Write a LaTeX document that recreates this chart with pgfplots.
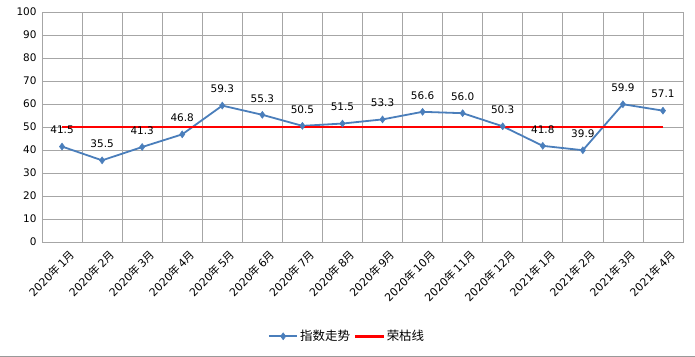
\documentclass[border=0pt]{standalone}
\usepackage{pgfplots}
\pgfplotsset{compat=1.18}
\usepackage{fontspec}
\setmainfont{DejaVu Sans}
\newfontfamily\cjk{Noto Sans CJK SC}
\definecolor{lineblue}{HTML}{4A7EBB}
\definecolor{gridgray}{HTML}{A6A6A6}
\newcommand\nian{{\cjk 年}\,}
\newcommand\yue{{\cjk 月}}
\begin{document}
\begin{tikzpicture}
\path[use as bounding box] (0,0) rectangle (695bp,357bp);
\draw[gray!80, line width=1.2bp] (0,0.6bp) -- (695bp,0.6bp);
\begin{axis}[
  at={(42bp,115bp)}, anchor=south west,
  scale only axis, width=641bp, height=230bp,
  xmin=-0.5, xmax=15.5, ymin=0, ymax=100,
  ytick={0,10,...,100},
  xtick={0,...,15},
  minor xtick={-0.5,0.5,...,15.5},
  xminorgrids, ymajorgrids,
  grid style={gridgray, line width=0.7bp},
  minor grid style={gridgray, line width=0.7bp},
  axis line style={gridgray, line width=0.8bp},
  major tick style={draw=none}, minor tick style={draw=none},
  /pgf/number format/assume math mode=true,
  tick label style={font=\fontsize{10.5}{12}\selectfont},
  yticklabel style={xshift=-2bp},
  xticklabels={2020\nian1\yue,2020\nian2\yue,2020\nian3\yue,2020\nian4\yue,2020\nian5\yue,2020\nian6\yue,2020\nian7\yue,2020\nian8\yue,2020\nian9\yue,2020\nian10\yue,2020\nian11\yue,2020\nian12\yue,2021\nian1\yue,2021\nian2\yue,2021\nian3\yue,2021\nian4\yue},
  xticklabel style={font=\fontsize{11}{12}\selectfont, rotate=45, anchor=east, yshift=-15bp, xshift=3bp},
  legend style={at={(0.476,-0.41)}, anchor=center, legend columns=2, draw=none,
    font=\fontsize{12.5}{14}\selectfont\cjk, /tikz/every even column/.append style={column sep=2bp}},
  legend image code/.code={\draw[mark repeat=2,mark phase=2,#1] plot coordinates {(0cm,0cm) (0.5cm,0cm) (1cm,0cm)};},
]
\addplot[lineblue, line width=1.8bp, mark=diamond*, mark size=3.5bp, mark options={fill=lineblue, draw=lineblue, line width=0.5bp},
  nodes near coords, point meta=y,
  every node near coord/.append style={font=\fontsize{10.5}{12}\selectfont, black, yshift=9bp,
    /pgf/number format/fixed, /pgf/number format/precision=1, /pgf/number format/fixed zerofill}]
 coordinates {(0,41.5) (1,35.5) (2,41.3) (3,46.8) (4,59.3) (5,55.3) (6,50.5) (7,51.5) (8,53.3) (9,56.6) (10,56.0) (11,50.3) (12,41.8) (13,39.9) (14,59.9) (15,57.1)};
\addlegendentry{指数走势}
\addplot[red, line width=2.4bp, mark=none]
 coordinates {(0,50) (1,50) (2,50) (3,50) (4,50) (5,50) (6,50) (7,50) (8,50) (9,50) (10,50) (11,50) (12,50) (13,50) (14,50) (15,50)};
\addlegendentry{荣枯线}
\end{axis}
\end{tikzpicture}
\end{document}
